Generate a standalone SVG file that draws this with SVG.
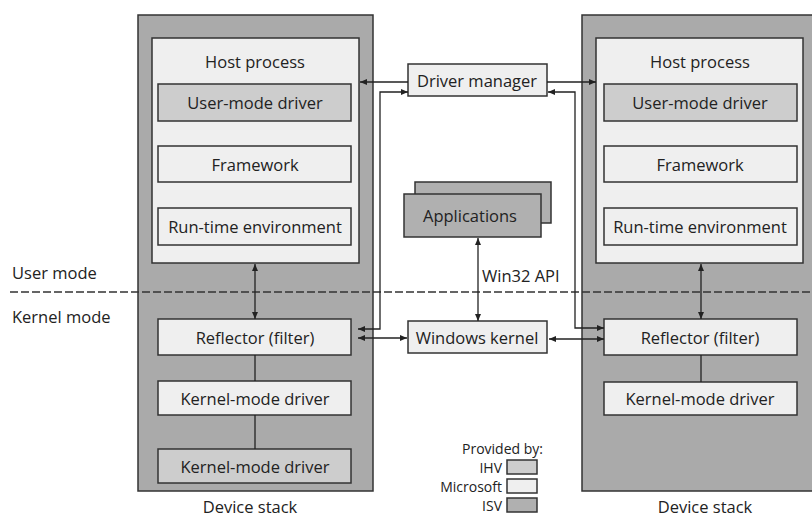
<svg xmlns="http://www.w3.org/2000/svg" width="812" height="516" viewBox="0 0 812 516">
<style>
text{font-family:"Open Sans","Noto Sans","Liberation Sans",sans-serif;font-size:16.5px;fill:#222}
.c{text-anchor:middle;dominant-baseline:central}
.r{text-anchor:end;dominant-baseline:central}
.l{text-anchor:start;dominant-baseline:central}
.lg{font-size:14px}
.stack{fill:#aaaaaa;stroke:#333;stroke-width:1.5}
.host{fill:#efefef;stroke:#333;stroke-width:1.5}
.ms{fill:#efefef;stroke:#333;stroke-width:1.5}
.ihv{fill:#cdcdcd;stroke:#333;stroke-width:1.5}
.isv{fill:#b0b0b0;stroke:#333;stroke-width:1.5}
.conn{fill:none;stroke:#222;stroke-width:1.3}
.dash{stroke:#333;stroke-width:1.5;stroke-dasharray:8 3}
</style>
<defs>
<marker id="ah" markerUnits="userSpaceOnUse" markerWidth="8" markerHeight="7" refX="7" refY="3" orient="auto-start-reverse">
<path d="M0,0 L7,3 L0,6 z" fill="#222"/>
</marker>
</defs>
<rect width="812" height="516" fill="#ffffff"/>

<g id="left-stack">
<rect class="stack" x="138" y="15" width="235" height="476"/>
<text class="c" x="250" y="506">Device stack</text>
</g>
<g id="left-host">
<rect class="host" x="152" y="38" width="207" height="225"/>
<text class="c" x="255" y="61">Host process</text>
</g>
<g id="left-umd"><rect class="ihv" x="158" y="84" width="193" height="37"/><text class="c" x="255" y="102">User-mode driver</text></g>
<g id="left-fw"><rect class="ms" x="158" y="146" width="193" height="36"/><text class="c" x="255" y="164">Framework</text></g>
<g id="left-rte"><rect class="ms" x="158" y="208" width="193" height="37"/><text class="c" x="255" y="226">Run-time environment</text></g>
<g id="left-reflector"><rect class="ms" x="158" y="319" width="193" height="36"/><text class="c" x="255" y="337">Reflector (filter)</text></g>
<g id="left-kmd1"><rect class="ms" x="158" y="381" width="193" height="34"/><text class="c" x="255" y="398">Kernel-mode driver</text></g>
<g id="left-kmd2"><rect class="ihv" x="158" y="449" width="193" height="34"/><text class="c" x="255" y="466">Kernel-mode driver</text></g>

<g id="right-stack">
<rect class="stack" x="582" y="15" width="250" height="476"/>
<text class="c" x="705" y="506">Device stack</text>
</g>
<g id="right-host">
<rect class="host" x="596" y="38" width="207" height="225"/>
<text class="c" x="700" y="61">Host process</text>
</g>
<g id="right-umd"><rect class="ihv" x="604" y="84" width="193" height="37"/><text class="c" x="700" y="102">User-mode driver</text></g>
<g id="right-fw"><rect class="ms" x="604" y="146" width="193" height="36"/><text class="c" x="700" y="164">Framework</text></g>
<g id="right-rte"><rect class="ms" x="604" y="208" width="193" height="37"/><text class="c" x="700" y="226">Run-time environment</text></g>
<g id="right-reflector"><rect class="ms" x="604" y="319" width="193" height="36"/><text class="c" x="700" y="337">Reflector (filter)</text></g>
<g id="right-kmd"><rect class="ms" x="604" y="382" width="193" height="33"/><text class="c" x="700" y="398">Kernel-mode driver</text></g>

<g id="driver-manager"><rect class="ms" x="408" y="64" width="139" height="32"/><text class="c" x="477" y="80">Driver manager</text></g>
<g id="applications">
<rect class="isv" x="415" y="182" width="136" height="41"/>
<rect class="isv" x="404" y="194" width="137" height="43"/>
<text class="c" x="470" y="215">Applications</text>
</g>
<g id="windows-kernel"><rect class="ms" x="408" y="321" width="139" height="32"/><text class="c" x="477" y="337">Windows kernel</text></g>

<g id="mode-labels">
<text class="l" x="12" y="272">User mode</text>
<text class="l" x="12" y="316">Kernel mode</text>
<line class="dash" x1="10" y1="292" x2="812" y2="292"/>
</g>

<g id="connectors">
<line class="conn" x1="408" y1="82" x2="360" y2="82" marker-end="url(#ah)"/>
<line class="conn" x1="547" y1="82" x2="596" y2="82" marker-end="url(#ah)"/>
<path class="conn" d="M358,329 H380 V92 H408" marker-start="url(#ah)" marker-end="url(#ah)"/>
<path class="conn" d="M548,92 H575 V328 H604" marker-start="url(#ah)" marker-end="url(#ah)"/>
<path class="conn" d="M358,338 H407" marker-start="url(#ah)" marker-end="url(#ah)"/>
<path class="conn" d="M549,339 H604" marker-start="url(#ah)" marker-end="url(#ah)"/>
<path class="conn" d="M478,238 V321" marker-start="url(#ah)" marker-end="url(#ah)"/>
<path class="conn" d="M255,264 V319" marker-start="url(#ah)" marker-end="url(#ah)"/>
<path class="conn" d="M701,264 V319" marker-start="url(#ah)" marker-end="url(#ah)"/>
<path class="conn" d="M255,355 V381 M255,415 V449 M701,355 V382"/>
</g>
<text class="l" x="482" y="275">Win32 API</text>

<g id="legend">
<text class="r lg" x="543" y="448">Provided by:</text>
<text class="r lg" x="502" y="467">IHV</text>
<rect class="ihv" x="507" y="460" width="30" height="14"/>
<text class="r lg" x="502" y="486">Microsoft</text>
<rect class="ms" x="507" y="479" width="30" height="14"/>
<text class="r lg" x="502" y="505">ISV</text>
<rect class="isv" x="507" y="498" width="30" height="14"/>
</g>
</svg>
